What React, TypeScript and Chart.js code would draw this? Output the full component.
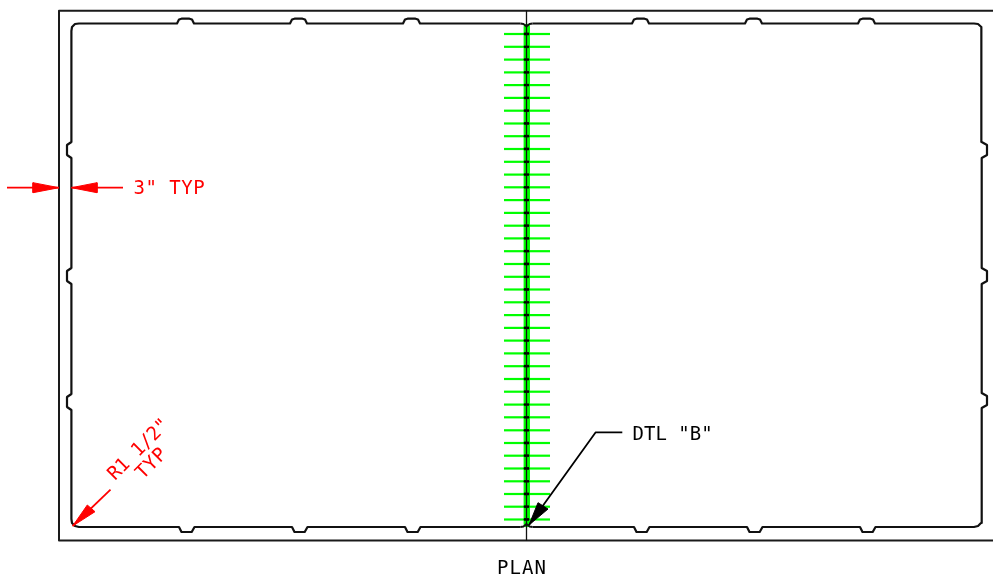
import React, { useEffect, useRef } from "react";
import { Chart, registerables } from "chart.js";

Chart.register(...registerables);

const frameX = [1000, 59, 59, 1000];
const frameY = [10.7, 10.7, 540.4, 540.4];
const centreX = [526.5, 526.5];
const centreY = [10.7, 540.4];
const panelLeftX = [520.5, 420, 418, 415.5, 407.5, 405, 403, 307, 305, 302.5, 294.5, 292, 290, 194, 192, 189.5, 181.5, 179, 177, 79, 75, 72, 71.4, 71.4, 67, 67, 71.4, 71.4, 67, 67, 71.4, 71.4, 67, 67, 71.4, 71.4, 72, 75, 79, 179, 181.5, 191.7, 194.5, 292, 294.5, 304.7, 307.5, 405, 407.5, 417.7, 420.5, 520.5];
const panelLeftY = [23.5, 23.5, 19.5, 18.7, 18.7, 19.5, 23.5, 23.5, 19.5, 18.7, 18.7, 19.5, 23.5, 23.5, 19.5, 18.7, 18.7, 19.5, 23.5, 23.5, 24, 27, 31, 142, 145, 155, 158, 268, 271, 281, 284, 394, 397, 407, 410, 519, 523, 526, 527, 527, 532, 532, 527, 527, 532, 532, 527, 527, 532, 532, 527, 527];
const panelRightX = [532.5, 634, 636.5, 646.7, 649.5, 747, 749.5, 759.7, 762.5, 860, 862.5, 872.7, 875.5, 974, 978, 981, 981.7, 981.7, 987, 987, 981.7, 981.7, 987, 987, 981.7, 981.7, 987, 987, 981.7, 981.7, 981, 978, 974, 875, 873, 870.5, 862.5, 860, 858, 762, 760, 757.5, 749.5, 747, 745, 649, 647, 644.5, 636.5, 634, 632, 532.5];
const panelRightY = [527, 527, 532, 532, 527, 527, 532, 532, 527, 527, 532, 532, 527, 527, 526, 523, 519, 408, 405, 396, 393, 284, 281, 271, 268, 158, 155, 145, 142, 31, 27, 24, 23.5, 23.5, 19.5, 18.7, 18.7, 19.5, 23.5, 23.5, 19.5, 18.7, 18.7, 19.5, 23.5, 23.5, 19.5, 18.7, 18.7, 19.5, 23.5, 23.5];
const neckTopX = [520.5, 523.5, 526.5, 529.5, 532.5];
const neckTopY = [23.5, 24, 26.5, 24, 23.5];
const neckBottomX = [520.5, 523.5, 526.5, 529.5, 532.5];
const neckBottomY = [527, 526.5, 524, 526.5, 527];

const weldTickY = [34, 46.8, 59.6, 72.4, 85.1, 97.9, 110.7, 123.5, 136.2, 149, 161.8, 174.6, 187.3, 200.1, 212.9, 225.7, 238.4, 251.2, 264, 276.8, 289.5, 302.3, 315.1, 327.9, 340.6, 353.4, 366.2, 379, 391.7, 404.6, 417.3, 430.3, 443, 455.7, 468.5, 481.3, 494, 506.7, 519.5];
const weldLeft = [504, 525];
const weldRight = [529, 550];
const weldSpine = [525, 528];

const dimLeftTailX = [7, 59];
const dimRightTailX = [71.5, 123];
const dimY = [187.7, 187.7];
const dimHeadLX = [59, 33, 33, 59];
const dimHeadLY = [187.7, 182.7, 192.7, 187.7];
const dimHeadRX = [71.5, 97, 97, 71.5];
const dimHeadRY = [187.7, 182.7, 192.7, 187.7];
const radiusX = [110.5, 72.7];
const radiusY = [489.7, 526];
const radiusHeadX = [72.7, 87.3, 95, 72.7];
const radiusHeadY = [526, 505, 511.7, 526];
const leaderX = [622.3, 595.7, 529];
const leaderY = [432.3, 432.3, 525];
const leaderHeadX = [529, 538, 548, 529];
const leaderHeadY = [525, 502.7, 509, 525];

const labelTexts = ['3" TYP', 'DTL "B"', "PLAN", 'R1 1/2"', "TYP"];
const labelX = [133.5, 632.5, 497, 139, 152];
const labelY = [194, 440, 573.5, 450, 464];
const labelAngle = [0, 0, 0, -45, -45];
const labelColor = ["#ff0000", "#000000", "#000000", "#ff0000", "#ff0000"];
const labelAlign = ["left", "left", "left", "center", "center"];
const labelSpacing = [0.5, 0, 1.1, -0.3, 0.4];

const zip = (xs: number[], ys: number[]) => xs.map((x, i) => ({ x, y: ys[i] }));
const line = (xs: number[], ys: number[], color: string, width: number) => ({
  data: zip(xs, ys),
  borderColor: color,
  borderWidth: width,
  pointRadius: 0,
  tension: 0,
  fill: false,
  borderJoinStyle: "round" as const,
});
const head = (xs: number[], ys: number[], color: string) => ({
  data: zip(xs, ys),
  borderColor: color,
  backgroundColor: color,
  borderWidth: 1,
  pointRadius: 0,
  tension: 0,
  fill: "shape",
});

const labelsPlugin = {
  id: "planLabels",
  afterDatasetsDraw(chart: any) {
    const { ctx, scales } = chart;
    labelTexts.forEach((t, i) => {
      ctx.save();
      ctx.translate(scales.x.getPixelForValue(labelX[i]), scales.y.getPixelForValue(labelY[i]));
      ctx.rotate((labelAngle[i] * Math.PI) / 180);
      ctx.font = '19px "DejaVu Sans Mono"';
      ctx.letterSpacing = `${labelSpacing[i]}px`;
      ctx.fillStyle = labelColor[i];
      ctx.textAlign = labelAlign[i];
      ctx.textBaseline = labelAngle[i] ? "middle" : "alphabetic";
      ctx.fillText(t, 0, 0);
      ctx.restore();
    });
  },
};

export default function App() {
  const ref = useRef<HTMLCanvasElement>(null);
  useEffect(() => {
    const weld: any[] = [];
    weldTickY.forEach((y) => {
      weld.push(line(weldLeft, [y, y], "#00ff00", 2.2));
      weld.push(line(weldRight, [y, y], "#00ff00", 2.2));
    });
    const dots: any[] = weldSpine.map((x) => ({
      data: weldTickY.map((y) => ({ x, y })),
      showLine: false,
      pointRadius: 1.4,
      pointBackgroundColor: "#000000",
      pointBorderWidth: 0,
    }));
    // listed in painting order; Chart.js paints the last dataset first, hence the reverse
    const paintOrder: any[] = [
      line([526.8, 526.8], [27, 524], "#00ff00", 6.4),
      ...weld,
      line(frameX, frameY, "#1a1a1a", 2),
      line(centreX, centreY, "#111111", 1.3),
      line(panelLeftX, panelLeftY, "#111111", 2.2),
      line(panelRightX, panelRightY, "#111111", 2.2),
      line(neckTopX, neckTopY, "#111111", 1.8),
      line(neckBottomX, neckBottomY, "#111111", 1.8),
      ...dots,
      line(dimLeftTailX, dimY, "#ff0000", 1.8),
      line(dimRightTailX, dimY, "#ff0000", 1.8),
      head(dimHeadLX, dimHeadLY, "#ff0000"),
      head(dimHeadRX, dimHeadRY, "#ff0000"),
      line(radiusX, radiusY, "#ff0000", 1.8),
      head(radiusHeadX, radiusHeadY, "#ff0000"),
      line(leaderX, leaderY, "#000000", 1.8),
      head(leaderHeadX, leaderHeadY, "#000000"),
    ];
    const chart = new Chart(ref.current!, {
      type: "line",
      data: { datasets: paintOrder.reverse() },
      options: {
        animation: false,
        responsive: false,
        devicePixelRatio: 1,
        layout: { padding: 0, autoPadding: false },
        parsing: false,
        plugins: { legend: { display: false }, tooltip: { enabled: false } },
        scales: {
          x: { type: "linear", min: 0, max: 993, display: false },
          y: { type: "linear", min: 0, max: 580, reverse: true, display: false },
        },
      } as any,
      plugins: [labelsPlugin as any],
    });
    return () => chart.destroy();
  }, []);
  return (
    <canvas
      ref={ref}
      width={993}
      height={580}
      style={{ position: "fixed", left: 0, top: 0, width: 993, height: 580, background: "#fff" }}
    />
  );
}
